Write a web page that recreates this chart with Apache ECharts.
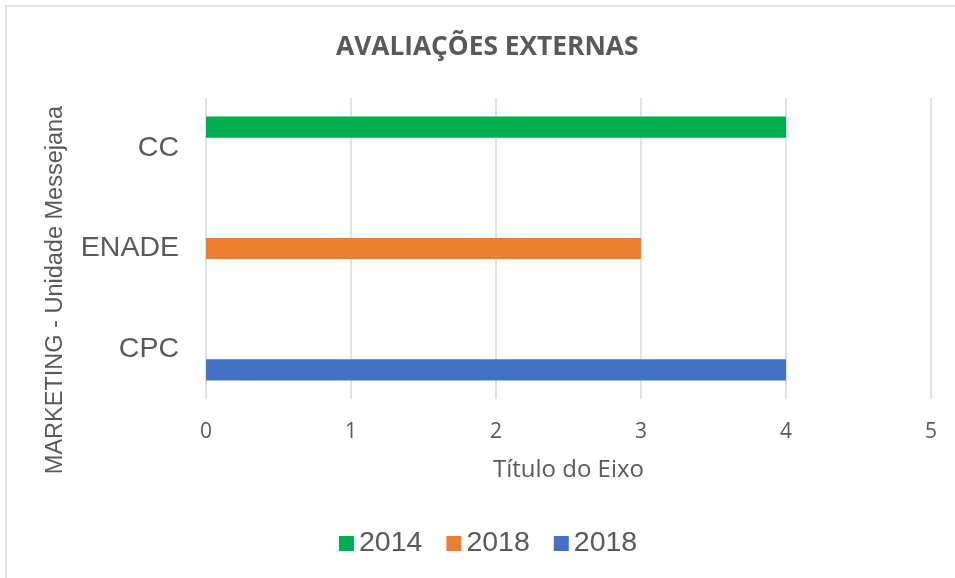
<!DOCTYPE html>
<html>
<head>
<meta charset="utf-8">
<script src="https://cdn.jsdelivr.net/npm/echarts@6/dist/echarts.min.js"></script>
<style>html,body{margin:0;padding:0;background:#fff;}#chart{width:955px;height:578px;}</style>
</head>
<body>
<div id="chart"></div>
<script>
const chartTitle = 'AVALIAÇÕES EXTERNAS';
const categories = ['CPC', 'ENADE', 'CC'];
const seriesNames = ['2014', '2018', '2018'];
const seriesColors = ['#00B050', '#ED7D31', '#4472C4'];
const values2014 = [null, null, 4];
const values2018a = [null, 3, null];
const values2018b = [4, null, null];
const xTicks = [0, 1, 2, 3, 4, 5];
const xAxisTitle = 'Título do Eixo';
const yAxisTitle = 'MARKETING - Unidade Messejana';

const seriesValues = [values2014, values2018a, values2018b];
const textColor = '#595959';

const chart = echarts.init(document.getElementById('chart'));
chart.setOption({
  backgroundColor: '#fff',
  animation: false,
  title: {
    text: chartTitle,
    left: 336,
    top: 35,
    padding: 0,
    textStyle: { fontFamily: 'Open Sans', fontWeight: 'bold', fontSize: 26.3, color: textColor }
  },
  grid: { left: 206, right: 24, top: 98, bottom: 179, containLabel: false },
  legend: {
    left: 339,
    top: 529,
    padding: 0,
    icon: 'rect',
    itemWidth: 15,
    itemHeight: 15,
    itemGap: 24,
    data: seriesNames.map((n, i) => n + '#' + i),
    formatter: n => n.split('#')[0],
    textStyle: { fontFamily: 'Liberation Sans', fontSize: 28.5, color: textColor }
  },
  xAxis: {
    type: 'value',
    min: xTicks[0],
    max: xTicks[xTicks.length - 1],
    interval: 1,
    name: xAxisTitle,
    nameLocation: 'middle',
    nameGap: 59,
    nameTextStyle: { fontFamily: 'Open Sans', fontSize: 24, color: textColor },
    axisLine: { show: false },
    axisTick: { show: false },
    axisLabel: { fontFamily: 'Open Sans', fontSize: 21, color: textColor, margin: 23 },
    splitLine: { show: true, lineStyle: { color: '#d9d9d9', width: 1.5 } }
  },
  yAxis: {
    type: 'category',
    data: categories,
    axisLine: { show: false },
    axisTick: { show: false },
    axisLabel: { fontFamily: 'Liberation Sans', fontSize: 28.5, color: textColor, margin: 27 },
    splitLine: { show: false }
  },
  series: seriesValues.map((vals, i) => ({
    type: 'bar',
    name: seriesNames[i] + '#' + i,
    data: vals,
    barGap: '0%',
    barCategoryGap: '37%',
    itemStyle: { color: seriesColors[i] }
  })),
  graphic: [
    {
      type: 'rect',
      shape: { x: 6, y: 6, width: 1200, height: 1200 },
      style: { fill: 'none', stroke: '#d9d9d9', lineWidth: 1.5 },
      silent: true
    },
    {
      type: 'text',
      x: 56,
      y: 290,
      rotation: Math.PI / 2,
      style: {
        text: yAxisTitle,
        fontFamily: 'Liberation Sans',
        fontSize: 23.5,
        fill: textColor,
        align: 'center',
        verticalAlign: 'middle'
      }
    }
  ]
});
</script>
</body>
</html>
